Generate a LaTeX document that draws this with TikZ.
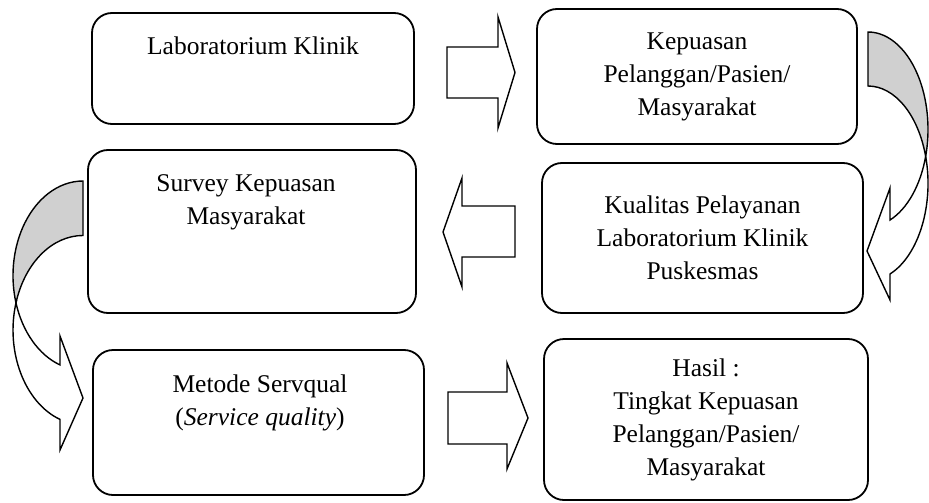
\documentclass[tikz,border=0pt]{standalone}
\usepackage{fontspec}
\setmainfont{Liberation Serif}
\definecolor{abu}{RGB}{208,208,208}

\begin{document}
\begin{tikzpicture}
            [
                x=0.5pt, y=0.5pt,
                kotak/.style={draw, line width=0.9pt, rounded corners=10pt, inner sep=0pt},
                teks/.style={align=center, font=\fontsize{12.75}{16.5}\selectfont},
                panah/.style={draw, line width=0.7pt, fill=white, line join=miter},
                lengkung/.style={draw, line width=0.7pt, fill=abu},
            ]
            \useasboundingbox (0,0) rectangle (929,-502);
            % kotak kiri
            \node[kotak, minimum width=161pt, minimum height=55.5pt] (lab) at (253,-68.5) {};
            \node[teks] (labteks) at (253,-46) {Laboratorium Klinik};
            \node[kotak, minimum width=164pt, minimum height=81.5pt] (survey) at (252,-231.5) {};
            \node[teks] (surveyteks) at (246,-202) {Survey Kepuasan\\Masyarakat};
            \node[kotak, minimum width=165.5pt, minimum height=72.5pt] (metode) at (258.5,-422.5) {};
            \node[teks] (metodeteks) at (260,-402.5) {Metode Servqual\\(\textit{Service quality})};
            % kotak kanan
            \node[kotak, teks, minimum width=160pt, minimum height=67.5pt] (kepuasan) at (697,-76.5)
                {Kepuasan\\Pelanggan/Pasien/\\Masyarakat};
            \node[kotak, teks, minimum width=160.5pt, minimum height=75pt] (kualitas) at (702.5,-238)
                {Kualitas Pelayanan\\Laboratorium Klinik\\Puskesmas};
            \node[kotak, teks, minimum width=162pt, minimum height=80.5pt] (hasil) at (706,-419.5)
                {Hasil :\\Tingkat Kepuasan\\Pelanggan/Pasien/\\Masyarakat};
            % panah blok
            \draw[panah] (447,-47) -- (498,-47) -- (498,-17) -- (515,-72.5) -- (498,-128) -- (498,-98) -- (447,-98) -- cycle;
            \draw[panah] (515,-206) -- (462,-206) -- (462,-178) -- (443,-232) -- (462,-287) -- (462,-257) -- (515,-257) -- cycle;
            \draw[panah] (448,-392) -- (507,-392) -- (507,-363) -- (528,-418) -- (507,-469) -- (507,-444) -- (448,-444) -- cycle;
            % panah lengkung kanan
            \draw[lengkung] (868,-32) arc[start angle=90, end angle=-16.1, x radius=60, y radius=97.4]
                arc[start angle=16.1, end angle=90, x radius=60, y radius=97.4] -- cycle;
            \draw[panah] (868,-129.4) ++(-16.1:60 and 97.4) arc[start angle=-16.1, end angle=-68.5, x radius=60, y radius=97.4]
                -- (890,-188) -- (867,-251) -- (890,-300) -- (890,-274)
                arc[start angle=-68.5, end angle=16.1, x radius=60, y radius=97.4] -- cycle;
            % panah lengkung kiri
            \draw[lengkung] (83,-181) arc[start angle=90, end angle=196.74, x radius=70, y radius=94.6]
                arc[start angle=163.26, end angle=90, x radius=70, y radius=94.6] -- cycle;
            \draw[panah] (83,-275.6) ++(196.74:70 and 94.6) arc[start angle=196.74, end angle=250.8, x radius=70, y radius=94.6]
                -- (60,-336) -- (83,-398) -- (60,-450) -- (60,-419.4)
                arc[start angle=250.8, end angle=163.26, x radius=70, y radius=94.6] -- cycle;
        \end{tikzpicture}
\end{document}
